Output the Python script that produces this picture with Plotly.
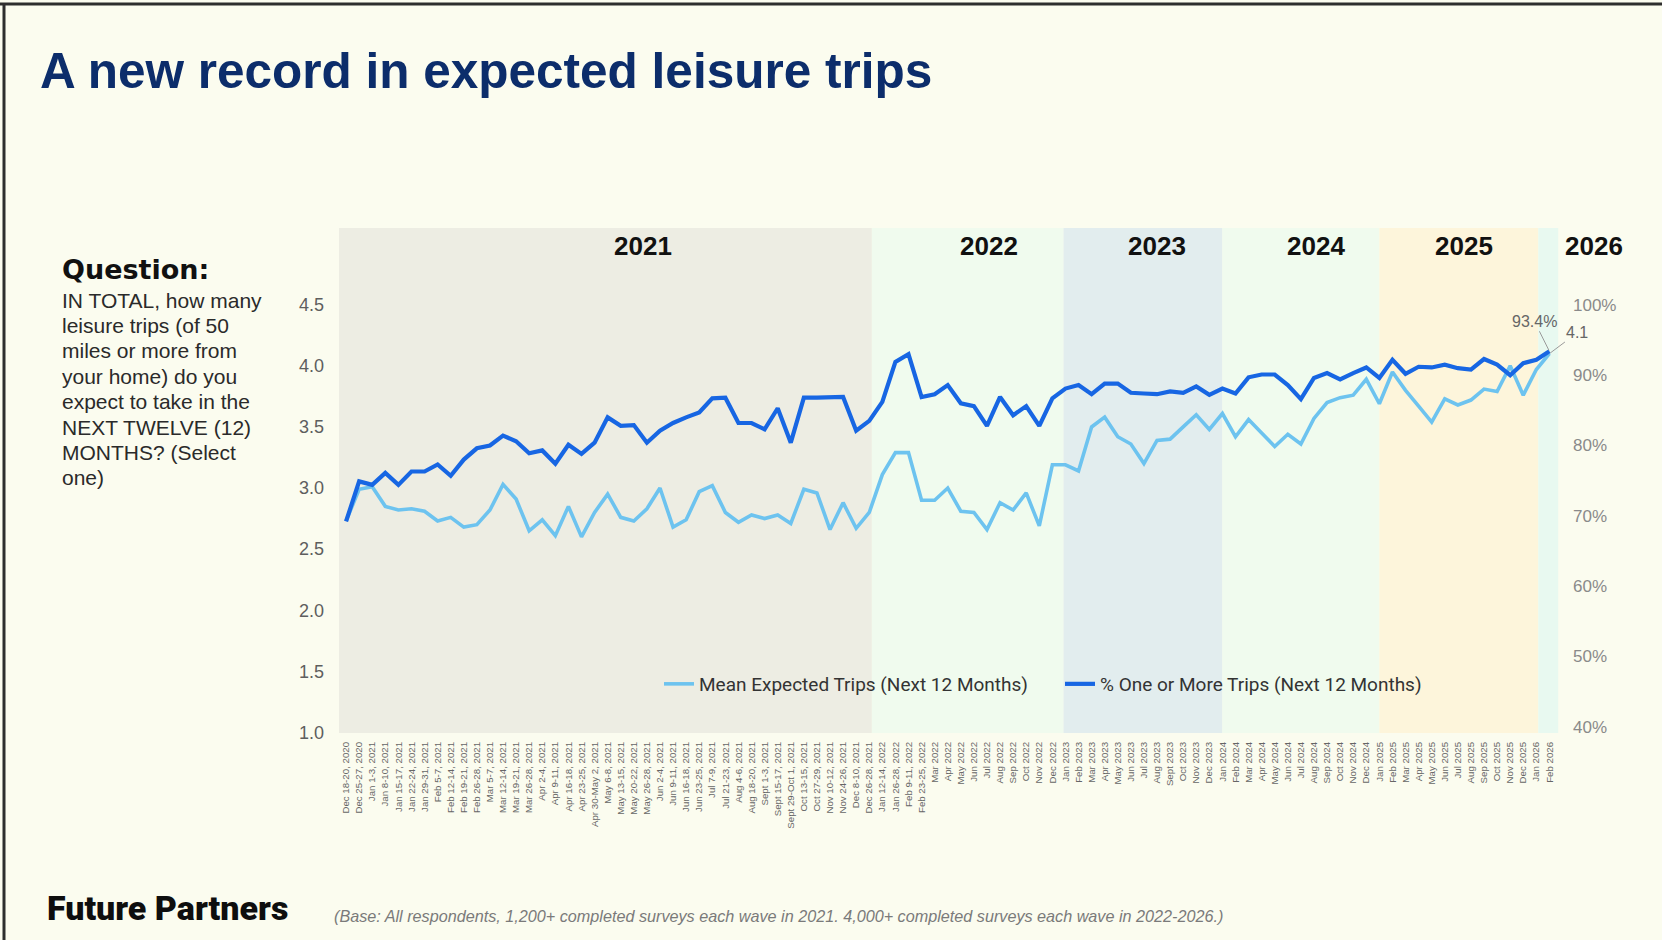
import plotly.graph_objects as go

# ---- survey waves (x-axis labels) ----
week_labels = [
    "Dec 18-20, 2020", "Dec 25-27, 2020", "Jan 1-3, 2021", "Jan 8-10, 2021",
    "Jan 15-17, 2021", "Jan 22-24, 2021", "Jan 29-31, 2021", "Feb 5-7, 2021",
    "Feb 12-14, 2021", "Feb 19-21, 2021", "Feb 26-28, 2021", "Mar 5-7, 2021",
    "Mar 12-14, 2021", "Mar 19-21, 2021", "Mar 26-28, 2021", "Apr 2-4, 2021",
    "Apr 9-11, 2021", "Apr 16-18, 2021", "Apr 23-25, 2021", "Apr 30-May 2, 2021",
    "May 6-8, 2021", "May 13-15, 2021", "May 20-22, 2021", "May 26-28, 2021",
    "Jun 2-4, 2021", "Jun 9-11, 2021", "Jun 16-18, 2021", "Jun 23-25, 2021",
    "Jul 7-9, 2021", "Jul 21-23, 2021", "Aug 4-6, 2021", "Aug 18-20, 2021",
    "Sept 1-3, 2021", "Sept 15-17, 2021", "Sept 29-Oct 1, 2021", "Oct 13-15, 2021",
    "Oct 27-29, 2021", "Nov 10-12, 2021", "Nov 24-26, 2021", "Dec 8-10, 2021",
    "Dec 26-28, 2021", "Jan 12-14, 2022", "Jan 26-28, 2022", "Feb 9-11, 2022",
    "Feb 23-25, 2022",
]
months_2022 = ["Mar 2022", "Apr 2022", "May 2022", "Jun 2022", "Jul 2022",
               "Aug 2022", "Sep 2022", "Oct 2022", "Nov 2022", "Dec 2022"]
months_2023 = ["Jan 2023", "Feb 2023", "Mar 2023", "Apr 2023", "May 2023", "Jun 2023",
               "Jul 2023", "Aug 2023", "Sept 2023", "Oct 2023", "Nov 2023", "Dec 2023"]
months_2024 = ["Jan 2024", "Feb 2024", "Mar 2024", "Apr 2024", "May 2024", "Jun 2024",
               "Jul 2024", "Aug 2024", "Sep 2024", "Oct 2024", "Nov 2024", "Dec 2024"]
months_2025 = ["Jan 2025", "Feb 2025", "Mar 2025", "Apr 2025", "May 2025", "Jun 2025",
               "Jul 2025", "Aug 2025", "Sep 2025", "Oct 2025", "Nov 2025", "Dec 2025"]
months_2026 = ["Jan 2026", "Feb 2026"]

waves = week_labels + months_2022 + months_2023 + months_2024 + months_2025 + months_2026

# ---- series ----
mean_trips = [
    2.73, 2.99, 3.01, 2.85, 2.82, 2.83, 2.81, 2.73, 2.76, 2.68,
    2.70, 2.82, 3.03, 2.91, 2.65, 2.74, 2.61, 2.85, 2.60, 2.80,
    2.95, 2.76, 2.73, 2.83, 3.00, 2.68, 2.74, 2.97, 3.02, 2.80,
    2.72, 2.78, 2.75, 2.78, 2.71, 2.99, 2.96, 2.66, 2.88, 2.67,
    2.80, 3.11, 3.29, 3.29, 2.90, 2.90, 3.00, 2.81, 2.80, 2.66,
    2.88, 2.82, 2.96, 2.69, 3.19, 3.19, 3.14, 3.50, 3.58, 3.42,
    3.36, 3.20, 3.39, 3.40, 3.50, 3.60, 3.48, 3.61, 3.42, 3.56,
    3.45, 3.34, 3.44, 3.36, 3.57, 3.70, 3.74, 3.76, 3.89, 3.69,
    3.95, 3.80, 3.67, 3.54, 3.73, 3.68, 3.72, 3.81, 3.79, 4.00,
    3.76, 3.97, 4.10,
]
pct_one_plus = [
    69.2, 74.9, 74.4, 76.1, 74.4, 76.3, 76.3, 77.3, 75.7, 78.0,
    79.6, 80.0, 81.4, 80.6, 78.9, 79.3, 77.4, 80.1, 78.8, 80.4,
    84.0, 82.8, 82.9, 80.4, 82.1, 83.2, 84.0, 84.7, 86.7, 86.8,
    83.2, 83.2, 82.3, 85.3, 80.4, 86.8, 86.8, 86.9, 86.9, 82.1,
    83.5, 86.2, 91.9, 93.0, 86.9, 87.3, 88.6, 86.0, 85.6, 82.8,
    86.9, 84.3, 85.6, 82.8, 86.7, 88.1, 88.6, 87.3, 88.8, 88.8,
    87.5, 87.4, 87.3, 87.7, 87.5, 88.4, 87.2, 88.1, 87.4, 89.7,
    90.1, 90.1, 88.6, 86.6, 89.6, 90.3, 89.4, 90.3, 91.1, 89.6,
    92.2, 90.2, 91.2, 91.1, 91.5, 91.0, 90.8, 92.3, 91.5, 90.0,
    91.7, 92.2, 93.4,
]

left_ticks = [1.0, 1.5, 2.0, 2.5, 3.0, 3.5, 4.0, 4.5]
right_ticks = [40, 50, 60, 70, 80, 90, 100]

years = ["2021", "2022", "2023", "2024", "2025", "2026"]

# ---- styling / placement ----
W, H = 1662, 940
PL, PR, PT, PB = 339, 1560, 228, 733          # plot-area box in page pixels
BG = "#FBFCEF"
DARK = "#1766E3"
LIGHT = "#6DC3EF"
band_edges = [-0.54, 40.2, 54.85, 67.0, 79.0, 91.15, 92.67]
band_colors = ["#EDEDE3", "#F0FBEE", "#E2EDEE", "#F0FBEE", "#FDF5DB", "#E8F9F0"]
year_label_px = [643, 989, 1157, 1316, 1464, 1594]


def px(X):
    return (X - PL) / (PR - PL)


def py(Y):
    return (PB - Y) / (PB - PT)


fig = go.Figure()

fig.add_trace(go.Scatter(
    x=waves, y=mean_trips, mode="lines", name="Mean Expected Trips (Next 12 Months)",
    line=dict(color=LIGHT, width=3.6), yaxis="y",
))
fig.add_trace(go.Scatter(
    x=waves, y=pct_one_plus, mode="lines", name="% One or More Trips (Next 12 Months)",
    line=dict(color=DARK, width=4.2), yaxis="y2",
))

# year bands
shapes = []
for i, col in enumerate(band_colors):
    shapes.append(dict(type="rect", xref="x", yref="paper",
                       x0=band_edges[i], x1=band_edges[i + 1], y0=0, y1=1,
                       fillcolor=col, line=dict(width=0), layer="below"))
# slide frame
shapes.append(dict(type="line", xref="paper", yref="paper",
                   x0=px(0), x1=px(W), y0=py(4), y1=py(4),
                   line=dict(color="#2E2E2E", width=3)))
shapes.append(dict(type="line", xref="paper", yref="paper",
                   x0=px(4), x1=px(4), y0=py(4), y1=py(H),
                   line=dict(color="#2E2E2E", width=3)))

ann = []
for yr, X in zip(years, year_label_px):
    ann.append(dict(text=f"<b>{yr}</b>", xref="paper", yref="paper", x=px(X), y=py(246),
                    xanchor="center", yanchor="middle", showarrow=False,
                    font=dict(family="Liberation Sans", size=26, color="#111111")))

# question block
ann.append(dict(text="<b>Question:</b>", xref="paper", yref="paper", x=px(60), y=py(269),
                xanchor="left", yanchor="middle", showarrow=False,
                font=dict(family="DejaVu Sans", size=27, color="#111111")))
question_lines = ["IN TOTAL, how many", "leisure trips (of 50", "miles or more from",
                  "your home) do you", "expect to take in the", "NEXT TWELVE (12)",
                  "MONTHS? (Select", "one)"]
for k, line in enumerate(question_lines):
    ann.append(dict(text=line, xref="paper", yref="paper", x=px(60), y=py(300 + 25.4 * k),
                    xanchor="left", yanchor="middle", showarrow=False,
                    font=dict(family="Liberation Sans", size=21, color="#2A2A2A")))

# end-point value labels
ann.append(dict(text=f"{pct_one_plus[-1]}%", x=waves[-1], y=pct_one_plus[-1],
                xref="x", yref="y2", showarrow=True, arrowhead=0, arrowwidth=1,
                arrowcolor="#9A9A9A", ax=-15, ay=-30, standoff=1,
                font=dict(family="Liberation Sans", size=16, color="#666666")))
ann.append(dict(text=f"{mean_trips[-1]}", x=waves[-1], y=mean_trips[-1],
                xref="x", yref="y", showarrow=True, arrowhead=0, arrowwidth=1,
                arrowcolor="#9A9A9A", ax=28, ay=-21, standoff=1,
                font=dict(family="Liberation Sans", size=16, color="#666666")))

# footer
ann.append(dict(text="Future Partners", xref="paper", yref="paper", x=px(45), y=py(908),
                xanchor="left", yanchor="middle", showarrow=False,
                font=dict(family="Roboto", size=34, color="#0E0E0E", weight=900)))
ann.append(dict(text="<i>(Base: All respondents, 1,200+ completed surveys each wave in 2021. "
                     "4,000+ completed surveys each wave in 2022-2026.)</i>",
                xref="paper", yref="paper", x=px(332), y=py(916),
                xanchor="left", yanchor="middle", showarrow=False,
                font=dict(family="Liberation Sans", size=16.2, color="#7A7A7A")))

fig.update_layout(
    width=W, height=H, autosize=False,
    margin=dict(l=PL, r=W - PR, t=PT, b=H - PB, pad=0),
    paper_bgcolor=BG, plot_bgcolor="rgba(0,0,0,0)",
    title=dict(text="A new record in expected leisure trips", x=40 / W, y=1 - 71 / H,
               xanchor="left", yanchor="middle", xref="container", yref="container",
               font=dict(family="Liberation Sans", size=49.5, color="#0C2D6B", weight=700)),
    xaxis=dict(type="category", range=[-0.54, 92.81], tickangle=-90, showgrid=False,
               zeroline=False, showline=False, ticks="", ticklabelstandoff=6,
               tickfont=dict(family="Liberation Sans", size=9.7, color="#666666")),
    yaxis=dict(range=[0.995, 1 + (733.3 - PT) / 122.4],
               tickvals=left_ticks, ticktext=[f"{v:.1f}" for v in left_ticks],
               showgrid=False, zeroline=False, showline=False, ticks="", ticklabelstandoff=14,
               tickfont=dict(family="Liberation Sans", size=18, color="#5E5E5E")),
    yaxis2=dict(overlaying="y", side="right",
                range=[40 - (PB - 726.7) / 7.03, 40 + (726.7 - PT) / 7.03],
                tickvals=right_ticks, ticktext=[f"{v}%" for v in right_ticks],
                showgrid=False, zeroline=False, showline=False, ticks="", ticklabelstandoff=12,
                tickfont=dict(family="Liberation Sans", size=17, color="#8A8A8A")),
    legend=dict(orientation="h", x=px(659), y=py(684), xanchor="left", yanchor="middle",
                bgcolor="rgba(0,0,0,0)", entrywidth=356, entrywidthmode="pixels",
                font=dict(family="Roboto", size=19, color="#333333")),
    shapes=shapes, annotations=ann, showlegend=True,
)

fig.write_html("out.html", config={"displayModeBar": False},
               post_script="document.body.style.margin='0';")
